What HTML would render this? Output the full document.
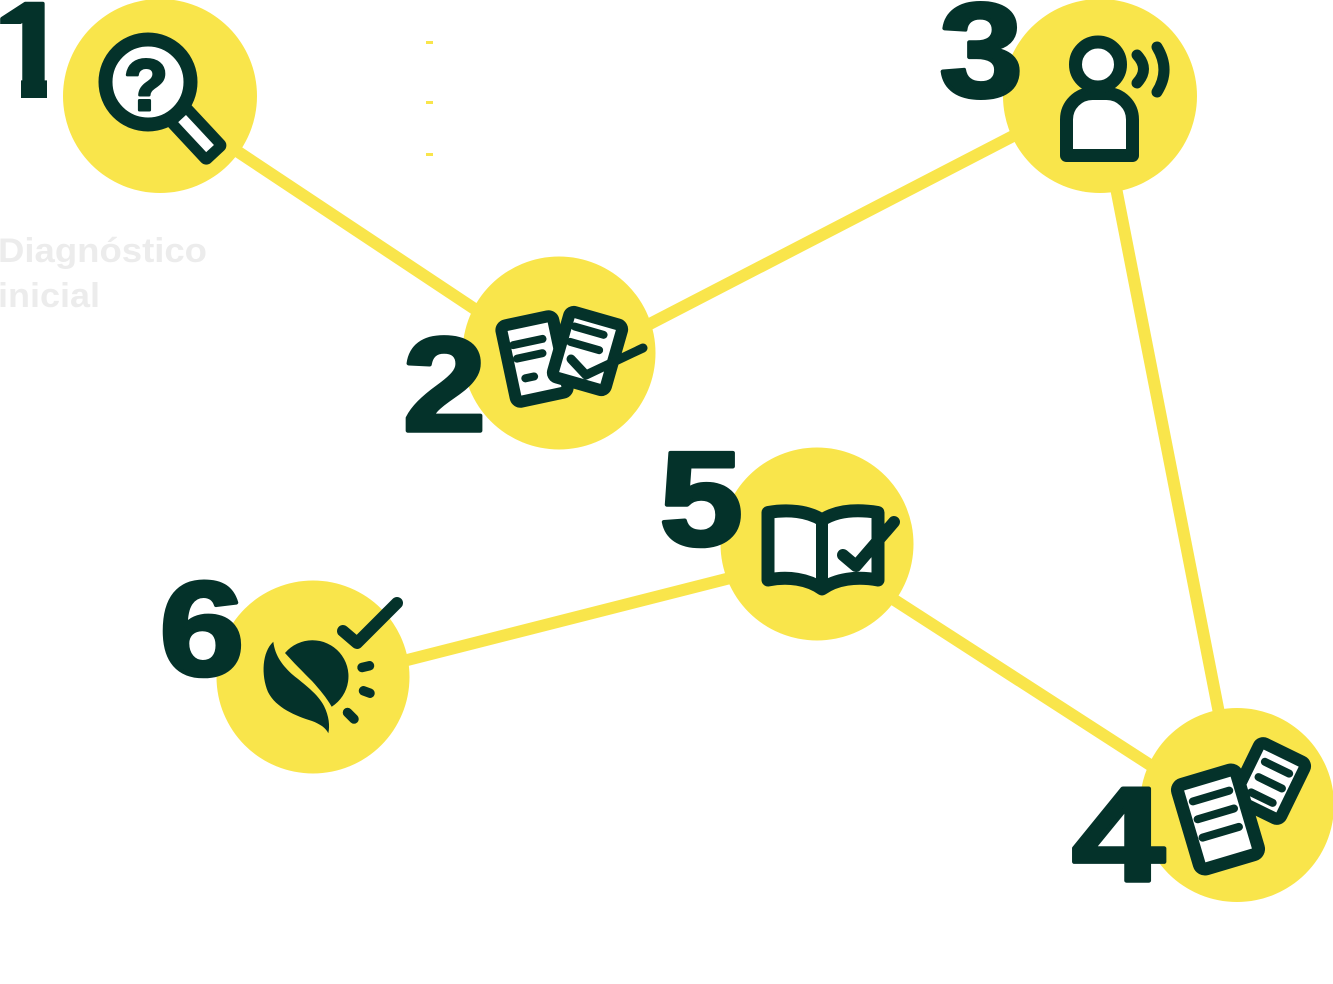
<!DOCTYPE html>
<html>
<head>
<meta charset="utf-8">
<style>
  html,body{margin:0;padding:0;background:#ffffff;}
  body{width:1333px;height:984px;overflow:hidden;}
  svg{display:block;}
  .num{font-family:"Liberation Sans",Arial,sans-serif;font-weight:bold;font-size:134px;fill:#04322A;stroke:#04322A;stroke-width:4;stroke-linejoin:round;}
  .lbl{font-family:"Liberation Sans",Arial,sans-serif;font-weight:bold;font-size:34px;fill:#ECECEC;}
</style>
</head>
<body>
<svg width="1333" height="984" viewBox="0 0 1333 984" xmlns="http://www.w3.org/2000/svg">
  <defs>
    <clipPath id="c1">
      <path d="M-10,-10 H47 V110 H21 V24 H-10 Z"/>
    </clipPath>
  </defs>
  <!-- connectors -->
  <g stroke="#F9E54B" stroke-width="12" stroke-linecap="butt" fill="none">
    <line x1="160" y1="100" x2="559" y2="365"/>
    <line x1="559" y1="371" x2="1100" y2="91"/>
    <line x1="1098" y1="96" x2="1237" y2="805"/>
    <line x1="817" y1="550" x2="1237" y2="821"/>
    <line x1="313" y1="684" x2="817" y2="556"/>
  </g>

  <!-- small dashes -->
  <g fill="#F9E54B">
    <rect x="426" y="41" width="7" height="3"/>
    <rect x="426" y="101" width="7" height="3"/>
    <rect x="426" y="153" width="7" height="3"/>
  </g>

  <!-- circles -->
  <g fill="#F9E54B">
    <circle cx="160" cy="96" r="97"/>
    <circle cx="559" cy="353" r="96.5"/>
    <circle cx="1100" cy="96" r="97"/>
    <circle cx="1237" cy="805" r="97"/>
    <circle cx="817" cy="544" r="96.5"/>
    <circle cx="313" cy="677" r="96.5"/>
  </g>

  <!-- Icon 1: magnifier with question mark -->
  <g transform="translate(148,82) rotate(47)">
    <rect x="40" y="-16" width="62" height="32" rx="7" fill="#04322A"/>
  </g>
  <circle cx="148" cy="82" r="42.5" fill="#ffffff" stroke="#04322A" stroke-width="14"/>
  <g transform="translate(148,82) rotate(47)">
    <rect x="50" y="-5.3" width="41" height="10.6" fill="#ffffff"/>
  </g>
  <text x="146" y="110" font-family="Liberation Sans, Arial, sans-serif" font-weight="bold" font-size="72" text-anchor="middle" fill="#04322A" stroke="#04322A" stroke-width="3" stroke-linejoin="round">?</text>

  <!-- Icon 2: two documents with check -->
  <g transform="translate(534.5,359) rotate(-12)">
    <rect x="-26.5" y="-39" width="53" height="78" rx="5" fill="#ffffff" stroke="#04322A" stroke-width="12"/>
    <path d="M-18,-18 H12 M-17,-4 H9 M-13,17 H-4" stroke="#04322A" stroke-width="8" stroke-linecap="round" fill="none"/>
  </g>
  <g transform="translate(587.5,351) rotate(16)">
    <rect x="-27.5" y="-34" width="55" height="68" rx="5" fill="#ffffff" stroke="#04322A" stroke-width="12"/>
    <path d="M-19,-20 H11 M-19,-4 H11" stroke="#04322A" stroke-width="8" stroke-linecap="round" fill="none"/>
  </g>
  <path d="M571,359 L586,375 L643,348" stroke="#04322A" stroke-width="9" stroke-linecap="round" stroke-linejoin="round" fill="none"/>

  <!-- Icon 3: person with sound waves -->
  <path d="M1066.5,155.5 V119.5 A26,26 0 0 1 1092.5,93.5 H1106.5 A26,26 0 0 1 1132.5,119.5 V155.5 Z" fill="#ffffff" stroke="#04322A" stroke-width="13" stroke-linejoin="round"/>
  <circle cx="1098" cy="64.5" r="22.5" fill="#ffffff" stroke="#04322A" stroke-width="13"/>
  <path d="M1137,55 Q1150,69 1137,83 M1157,47 Q1171,70 1157,92" stroke="#04322A" stroke-width="11" stroke-linecap="round" fill="none"/>

  <!-- Icon 4: documents -->
  <g transform="translate(1270,781) rotate(26)">
    <rect x="-25.5" y="-31.5" width="51" height="63" rx="5" fill="#ffffff" stroke="#04322A" stroke-width="12"/>
    <path d="M-13,-15 H14 M-12,1.5 H14 M-12,18.5 H12" stroke="#04322A" stroke-width="8" stroke-linecap="round" fill="none"/>
  </g>
  <g transform="translate(1218,819.5) rotate(-16.5)">
    <rect x="-30.75" y="-44" width="61.5" height="88" rx="6" fill="#ffffff" stroke="#04322A" stroke-width="13"/>
    <path d="M-19,-24.5 H19 M-19.5,-6 H18.5 M-20,13 H18" stroke="#04322A" stroke-width="8" stroke-linecap="round" fill="none"/>
  </g>

  <!-- Icon 5: open book with check -->
  <path d="M768,512.5 C788,509 808,511 822,520 C836,511 856,509 878,512.5 V580 C856,576 836,579 822,589 C808,579 788,576 768,580 Z" fill="#ffffff" stroke="#04322A" stroke-width="13" stroke-linejoin="round"/>
  <path d="M822,520 V589" stroke="#04322A" stroke-width="12" fill="none"/>
  <path d="M843,555 L856,566 L894,522" stroke="#04322A" stroke-width="12" stroke-linecap="round" stroke-linejoin="round" fill="none"/>

  <!-- Icon 6: leaf + sun with check -->
  <path d="M273.3,641.7 C262,652 261,675 268,692 C276,708 296,716 312,721 C320,724 326,728 328.3,733.3 C330,726 329,716 324,706 C318,694 304,684 293,675 C283,666 275,656 273.3,641.7 Z" fill="#04322A"/>
  <path d="M285,653 A36,36 0 1 1 331.7,706.7 C326,697 320,690 312,681 C303,672 293,662 285,653 Z" fill="#04322A"/>
  <path d="M362,667.5 L369.5,665.8 M363.5,690.8 L370,693.2 M347.5,712.5 L354,719" stroke="#04322A" stroke-width="9.5" stroke-linecap="round" fill="none"/>
  <path d="M343,631 L357,643 L397,603" stroke="#04322A" stroke-width="12" stroke-linecap="round" stroke-linejoin="round" fill="none"/>

  <!-- numbers -->
  <text class="num" x="-7" y="96" clip-path="url(#c1)">1</text>
  <text class="num" transform="translate(402.7,430.7) scale(1.12,1)" x="0" y="0">2</text>
  <text class="num" transform="translate(939.4,96.5) scale(1.12,1)" x="0" y="0">3</text>
  <text class="num" transform="translate(1072,880.7) scale(1.245,1)" x="0" y="0">4</text>
  <text class="num" transform="translate(659.4,545) scale(1.12,1)" x="0" y="0">5</text>
  <text class="num" transform="translate(159.4,675) scale(1.14,1)" x="0" y="0">6</text>

  <!-- faint label -->
  <text class="lbl" x="-2" y="262" textLength="209" lengthAdjust="spacingAndGlyphs">Diagnóstico</text>
  <text class="lbl" x="-2" y="307" textLength="102" lengthAdjust="spacingAndGlyphs">inicial</text>
</svg>
</body>
</html>
